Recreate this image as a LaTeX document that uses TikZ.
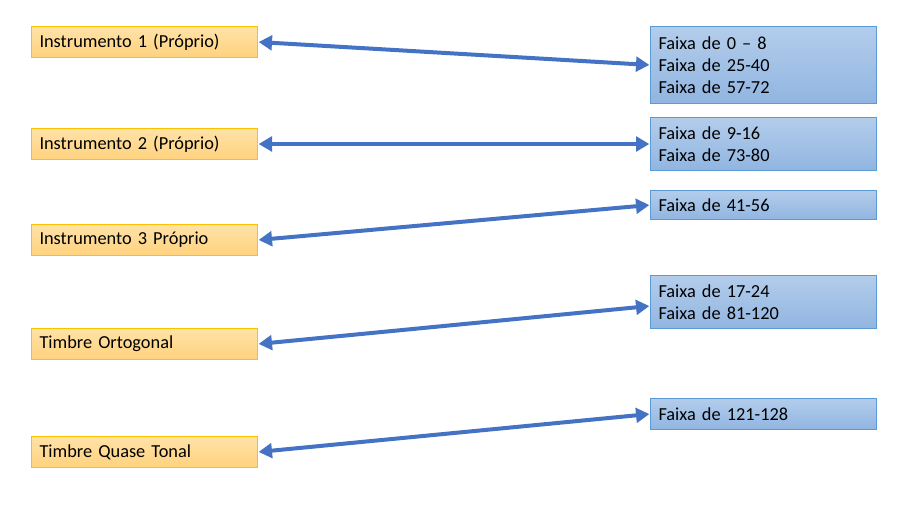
\documentclass[tikz,border=0pt]{standalone}
\usepackage{fontspec}
\setmainfont{Carlito}
\usetikzlibrary{arrows.meta}
\definecolor{orTop}{HTML}{FFE2A8}
\definecolor{orBot}{HTML}{FFD27E}
\definecolor{orLine}{HTML}{FFC000}
\definecolor{blTop}{HTML}{B3CDEB}
\definecolor{blBot}{HTML}{91B5E1}
\definecolor{blLine}{HTML}{5B9BD5}
\definecolor{arr}{HTML}{4472C4}
\begin{document}
\begin{tikzpicture}[x=0.75pt,y=-0.75pt,
  srcbox/.style={draw=orLine, line width=0.75pt, top color=orTop, bottom color=orBot,
    anchor=north west, minimum width=225*0.75pt, minimum height=31*0.75pt,
    text width=210*0.75pt, align=left, inner sep=0pt, inner xsep=6pt, font=\fontsize{13.75pt}{16.5pt}\selectfont},
  dstbox/.style={draw=blLine, line width=0.75pt, top color=blTop, bottom color=blBot,
    anchor=north west, minimum width=225*0.75pt,
    text width=210*0.75pt, align=left, inner sep=0pt, inner xsep=6pt, font=\fontsize{13.75pt}{16.5pt}\selectfont},
  link/.style={arr, line width=3pt, {Triangle[length=10pt,width=11pt]}-{Triangle[length=10pt,width=11pt]}, shorten <=0.5pt, shorten >=0.5pt}]
\useasboundingbox (0,0) rectangle (919,505);
\node[srcbox] (i1) at (31,26) {Instrumento 1 (Próprio)};
\node[srcbox] (i2) at (31,128) {Instrumento 2 (Próprio)};
\node[srcbox] (i3) at (31,224) {Instrumento 3 Próprio};
\node[srcbox] (i4) at (31,328) {Timbre Ortogonal};
\node[srcbox] (i5) at (31,436) {Timbre Quase Tonal};
\node[dstbox, minimum height=77*0.75pt] (f1) at (650,26) {Faixa de 0 – 8\\Faixa de 25-40\\Faixa de 57-72};
\node[dstbox, minimum height=53*0.75pt] (f2) at (650,117) {Faixa de 9-16\\Faixa de 73-80};
\node[dstbox, minimum height=29*0.75pt] (f3) at (650,190) {Faixa de 41-56};
\node[dstbox, minimum height=53*0.75pt] (f4) at (650,275) {Faixa de 17-24\\Faixa de 81-120};
\node[dstbox, minimum height=31*0.75pt] (f5) at (650,398) {Faixa de 121-128};
\draw[link] (i1.east) -- (f1.west);
\draw[link] (i2.east) -- (f2.west);
\draw[link] (i3.east) -- (f3.west);
\draw[link] (i4.east) -- ([yshift=-4*0.75pt]f4.west);
\draw[link] (i5.east) -- (f5.west);
\end{tikzpicture}
\end{document}
